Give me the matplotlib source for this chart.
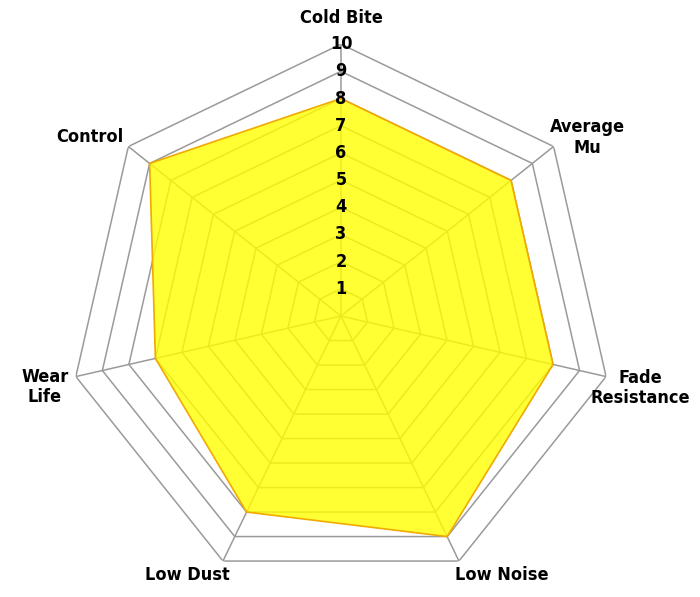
import numpy as np
import matplotlib.pyplot as plt

# axis labels, clockwise from top
categories = ["Cold Bite", "Average\nMu", "Fade\nResistance", "Low Noise",
              "Low Dust", "Wear\nLife", "Control"]
scores = [8, 8, 8, 9, 8, 7, 9]
levels = [1, 2, 3, 4, 5, 6, 7, 8, 9, 10]

plt.rcParams['font.family'] = ['DejaVu Sans']
plt.rcParams['font.stretch'] = 'condensed'

n = len(categories)
theta = np.arange(n) * 2 * np.pi / n
theta_closed = np.append(theta, theta[0])

fig = plt.figure(figsize=(7, 5.97), dpi=100)
ax = fig.add_axes([0.0986, 0.0151, 0.777, 0.911], projection='polar')
ax.set_theta_offset(np.pi / 2)
ax.set_theta_direction(-1)
ax.set_ylim(0, 10)
ax.grid(False)
ax.spines['polar'].set_visible(False)
ax.set_xticks([])
ax.set_yticks([])

# heptagon rings and spokes
for lv in levels:
    ax.plot(theta_closed, [lv] * (n + 1), color='#9a9a9a', lw=1.1, zorder=1)
for t in theta:
    ax.plot([t, t], [0, 10], color='#9a9a9a', lw=1.1, zorder=1)

# data polygon
vals = scores + scores[:1]
ax.fill(theta_closed, vals, color='#ffff00', alpha=0.8, zorder=2, lw=0)
ax.plot(theta_closed, vals, color='#f2a900', lw=1.2, zorder=3)

# level numbers on the top spoke
for lv in levels:
    ax.text(0, lv, str(lv), ha='center', va='center', fontsize=13,
            fontweight='bold', zorder=4)

# category labels, offset in pixels from the outer ring corner
offsets = [(0, 26), (34, 9), (34, -11), (43, -14), (-36, -14), (-31, -10), (-38, 10)]
for t, name, (dx, dy) in zip(theta, categories, offsets):
    ax.annotate(name, xy=(t, 10), xytext=(dx, dy), textcoords='offset pixels',
                ha='center', va='center', fontsize=13, fontweight='bold',
                linespacing=1.15, annotation_clip=False)

fig.savefig("out.png", dpi=100)
